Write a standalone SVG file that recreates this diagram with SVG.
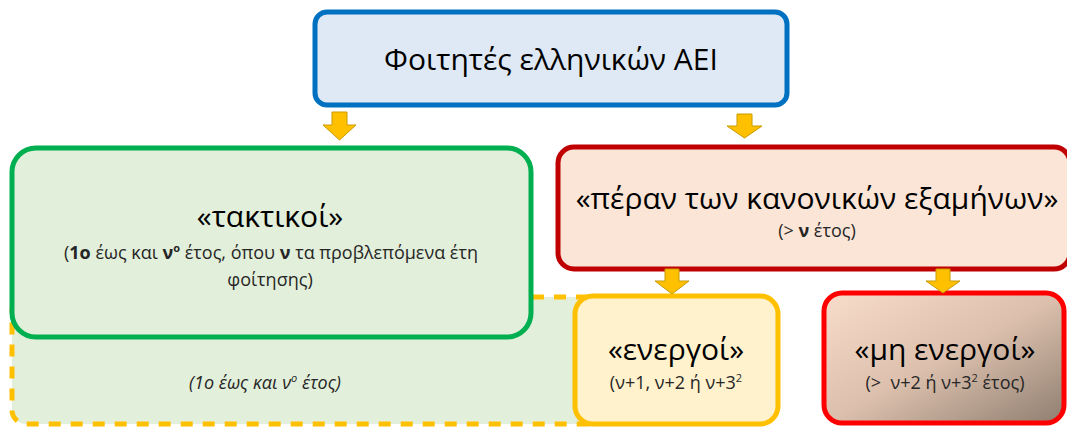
<svg xmlns="http://www.w3.org/2000/svg" width="1067" height="428" viewBox="0 0 1067 428">
<style>
text{font-family:"Open Sans","Noto Sans","DejaVu Sans",sans-serif;fill:#000;text-anchor:middle}
.t{font-size:30px}
.s{font-size:18px;fill:#262626}
.sup{font-size:11px}
.arrow{fill:#ffc000;stroke:#c99a00;stroke-width:1}
</style>
<defs>
<linearGradient id="g" x1="0" y1="0" x2="1" y2="1">
<stop offset="0" stop-color="#f9ddcb"/>
<stop offset="0.5" stop-color="#dcc0ad"/>
<stop offset="1" stop-color="#8f7e70"/>
</linearGradient>
</defs>
<g id="dashed-region">
<rect x="12" y="297" width="590" height="127" rx="14" fill="#e2efda" stroke="#ffc000" stroke-width="5" stroke-dasharray="12 10"/>
<text class="s" x="265" y="389" font-size="17" font-style="italic">(1ο έως και ν<tspan class="sup" dy="-7">ο</tspan><tspan dy="7"> έτος)</tspan></text>
</g>
<g id="top">
<rect x="315" y="12" width="472" height="93" rx="12" fill="#dee9f5" stroke="#0070c0" stroke-width="5"/>
<text class="t" x="551" y="70">Φοιτητές ελληνικών ΑΕΙ</text>
</g>
<g id="taktikoi">
<rect x="12" y="148" width="519" height="189" rx="24" fill="#e2efda" stroke="#00b050" stroke-width="5"/>
<text class="t" x="270" y="227">«τακτικοί»</text>
<text class="s" x="271" y="259">(<tspan font-weight="bold">1ο</tspan> έως και <tspan font-weight="bold">ν<tspan class="sup" dy="-7">ο</tspan></tspan><tspan dy="7"> έτος, όπου </tspan><tspan font-weight="bold">ν</tspan> τα προβλεπόμενα έτη</text>
<text class="s" x="270" y="286">φοίτησης)</text>
</g>
<g id="peran">
<rect x="558" y="147" width="512" height="122" rx="16" fill="#fbe5d6" stroke="#c00000" stroke-width="5"/>
<text class="t" x="817" y="209">«πέραν των κανονικών εξαμήνων»</text>
<text class="s" x="817" y="237">(&gt; <tspan font-weight="bold">ν</tspan> έτος)</text>
</g>
<g id="energoi">
<rect x="575" y="296" width="203" height="128" rx="18" fill="#fff2cc" stroke="#ffc000" stroke-width="5"/>
<text class="t" x="676" y="360">«ενεργοί»</text>
<text class="s" x="676" y="389">(ν+1, ν+2 ή ν+3<tspan class="sup" dy="-7">2</tspan></text>
</g>
<g id="mi-energoi">
<rect x="824" y="293" width="240" height="130" rx="18" fill="url(#g)" stroke="#ff0000" stroke-width="5"/>
<text class="t" x="945" y="360">«μη ενεργοί»</text>
<text class="s" x="945" y="389">(&gt;&#160; ν+2 ή ν+3<tspan class="sup" dy="-7">2</tspan><tspan dy="7"> έτος)</tspan></text>
</g>
<g id="connectors">
<path class="arrow" d="M332,112 H347 V125 H356 L339.5,140 L323,125 H332 Z"/>
<path class="arrow" d="M737,114 H752 V126 H762 L744.5,138 L727,126 H737 Z"/>
<path class="arrow" d="M665,269 H679 V281 H689 L672,294 L655,281 H665 Z"/>
<path class="arrow" d="M936,269 H950 V281 H960 L943,293 L926,281 H936 Z"/>
</g>
</svg>
